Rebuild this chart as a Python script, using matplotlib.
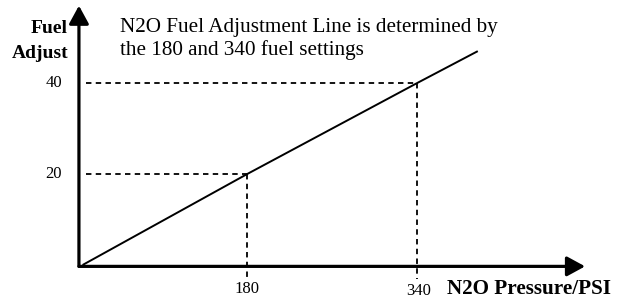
import matplotlib
matplotlib.use('Agg')
import matplotlib.pyplot as plt


# Datos

key_pressure = [180, 340]          # PSI
key_fuel = [20, 40]                # ajuste de combustible

line_pressure = [25, 180, 340, 397]
line_fuel = [0, 20, 40, 47]

axis_origin = (21.6, -0.3)
x_axis_end = 498
y_axis_end = 57

title_lines = ['N2O Fuel Adjustment Line is determined by',
               'the 180 and 340 fuel settings']


# Estilo

plt.rcParams['font.family'] = ['Liberation Serif', 'DejaVu Serif']

fig = plt.figure(figsize=(6.21, 2.98), dpi=100)

ax = fig.add_axes([0, 0, 1, 1])

ax.set_xlim(-52.7, 531.8)
ax.set_ylim(-7.25, 58.24)
ax.axis('off')


# Ejes con flecha

arrow = dict(arrowstyle='-|>,head_length=0.55,head_width=0.3', lw=2.3,
             color='k', shrinkA=0, shrinkB=0, mutation_scale=20)

ax.annotate('', xy=(x_axis_end, axis_origin[1]), xytext=axis_origin, arrowprops=arrow)
ax.annotate('', xy=(axis_origin[0], y_axis_end), xytext=axis_origin, arrowprops=arrow)


# Linea de ajuste

ax.plot(line_pressure, line_fuel, color='k', lw=1.4, solid_capstyle='butt')


# Lineas guia punteadas

for p, f in zip(key_pressure, key_fuel):

    ax.plot([axis_origin[0] + 7, p], [f, f], color='k', lw=1.3,
            linestyle=(0, (3.0, 2.4)))

    ax.plot([p, p], [f, -3.1], color='k', lw=1.3,
            linestyle=(0, (3.0, 2.4)))

    ax.text(axis_origin[0] - 16, f, str(f), ha='right', va='center', fontsize=12)


ax.text(key_pressure[0], -5.2, str(key_pressure[0]), ha='center', va='center', fontsize=12)
ax.text(key_pressure[1] + 1, -5.7, str(key_pressure[1]), ha='center', va='center', fontsize=12)


# Textos

ax.text(11.3, 51.0, 'Fuel', ha='right', va='baseline', fontsize=14, fontweight='bold')
ax.text(11.3, 45.5, 'Adjust', ha='right', va='baseline', fontsize=14, fontweight='bold')

ax.text(60, 51.2, title_lines[0], ha='left', va='baseline', fontsize=15.2)
ax.text(60, 46.2, title_lines[1], ha='left', va='baseline', fontsize=15.2)

ax.text(368, -6.3, 'N2O Pressure/PSI', ha='left', va='baseline', fontsize=15.2, fontweight='bold')


plt.savefig('out.png', dpi=100)
